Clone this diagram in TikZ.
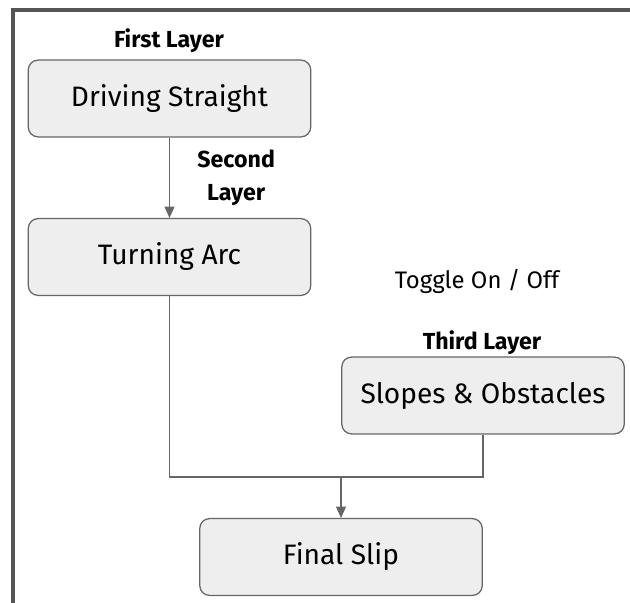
\documentclass[tikz,border=0pt]{standalone}
\usepackage{fontspec}
\setmainfont{Fira Sans}
\usetikzlibrary{arrows.meta, positioning}
\definecolor{boxfill}{HTML}{EEEEEE}
\definecolor{linegray}{HTML}{666666}
\definecolor{framegray}{HTML}{555555}

\begin{document}
\begin{tikzpicture}[
  x=0.025cm, y=-0.025cm,
  layer/.style={
    rectangle,
    draw=linegray,
    fill=boxfill,
    line width=0.9pt,
    rounded corners=7pt,
    minimum width=7.06cm,
    minimum height=1.92cm,
    align=center,
    font=\fontsize{20}{24}\selectfont
  },
  tag/.style={
    align=center,
    font=\fontsize{16.5}{23}\selectfont\bfseries
  },
  flow/.style={
    -{Triangle[length=8pt, width=7pt]},
    line width=0.9pt,
    draw=linegray
  },
  wire/.style={
    line width=0.9pt,
    draw=linegray
  }
]
\useasboundingbox (0,0) rectangle (630,603);

% Frame
\draw[framegray, line width=2.9pt] (13,603) -- (13,10) -- (630,10);

% Nodes
\node[layer] (straight) at (169.5,98.5) {Driving Straight};
\node[layer] (turning)  at (169.5,257)  {Turning Arc};
\node[layer] (slopes)   at (483,395.5)  {Slopes \& Obstacles};
\node[layer] (final)    at (341,557)    {Final Slip};

% Layer tags
\node[tag] (firsttag) at (169,41)  {First Layer};
\node[tag] (thirdtag) at (482,343) {Third Layer};
\node[font=\fontsize{17}{20}\selectfont] (toggle) at (477,281) {Toggle On / Off};

% Flow
\draw[flow] (straight) --
node[midway, right=16pt, tag] {Second\\Layer}
(turning);

\coordinate (merge) at (final.north |- 0,477);
\draw[wire] (turning.south) |- (merge) -| (slopes.south);
\draw[flow] (merge) -- (final.north);

\end{tikzpicture}
\end{document}
